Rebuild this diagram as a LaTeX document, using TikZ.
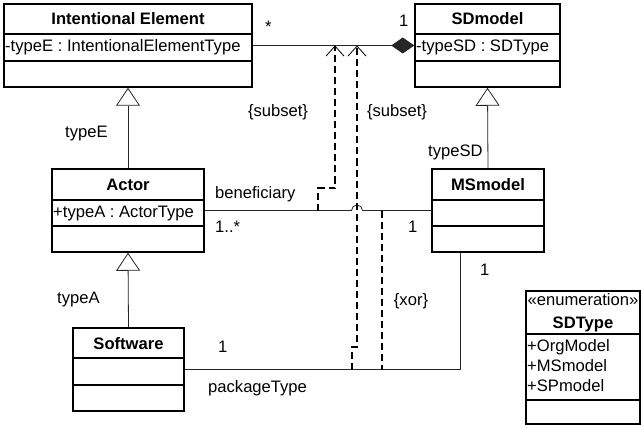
\documentclass[tikz,border=0pt]{standalone}
\usepackage{fontspec}
\setmainfont{Liberation Sans}
\usetikzlibrary{arrows.meta}
\newcommand\dsize{\fontsize{16.6}{19}\selectfont}
\begin{document}
\begin{tikzpicture}[x=1pt,y=-1pt,font=\dsize,
  classbox/.style={draw,line width=1.5pt,inner sep=0pt},
  divider/.style={line width=1.5pt},
  title/.style={inner sep=0pt,anchor=base,font=\dsize\bfseries},
  attr/.style={inner sep=0pt,anchor=base west,font=\dsize},
  lbl/.style={inner sep=0pt,anchor=base west,font=\dsize},
  clbl/.style={inner sep=0pt,font=\dsize},
  conn/.style={line width=0.8pt,black!85},
  gen/.style={conn,-{Triangle[open,length=18pt,width=24pt,line width=0.8pt]}},
  comp/.style={conn,-{Diamond[length=23pt,width=16pt]}},
  constraint/.style={line width=1.6pt,dash pattern=on 7pt off 4pt},
  subsetarrow/.style={constraint,-{Straight Barb[length=10pt,width=18pt,line width=0.8pt]}}]
\useasboundingbox (0,0) rectangle (641,428);

% ---- classes ----
\node[classbox,minimum width=248pt,minimum height=83pt] (ie) at (128,45.5) {};
\draw[divider] (ie.west |- 0,34) -- (ie.east |- 0,34);
\draw[divider] (ie.west |- 0,61) -- (ie.east |- 0,61);
\node[title] (ieT) at (128,25) {Intentional Element};
\node[attr] (ieA) at (5,52) {-typeE : IntentionalElementType};

\node[classbox,minimum width=145pt,minimum height=83pt] (sd) at (487.5,45.5) {};
\draw[divider] (sd.west |- 0,34) -- (sd.east |- 0,34);
\draw[divider] (sd.west |- 0,61) -- (sd.east |- 0,61);
\node[title] (sdT) at (487.5,25) {SDmodel};
\node[attr] (sdA) at (416,52) {-typeSD : SDType};

\node[classbox,minimum width=152pt,minimum height=83pt] (actor) at (128,210.5) {};
\draw[divider] (actor.west |- 0,200) -- (actor.east |- 0,200);
\draw[divider] (actor.west |- 0,226) -- (actor.east |- 0,226);
\node[title] (actorT) at (128,190) {Actor};
\node[attr] (actorA) at (53,217) {+typeA : ActorType};

\node[classbox,minimum width=112pt,minimum height=83pt] (ms) at (488,210.5) {};
\draw[divider] (ms.west |- 0,200) -- (ms.east |- 0,200);
\draw[divider] (ms.west |- 0,226) -- (ms.east |- 0,226);
\node[title] (msT) at (488,190) {MSmodel};

\node[classbox,minimum width=111pt,minimum height=83pt] (sw) at (128.5,369.5) {};
\draw[divider] (sw.west |- 0,358) -- (sw.east |- 0,358);
\draw[divider] (sw.west |- 0,385) -- (sw.east |- 0,385);
\node[title] (swT) at (128.5,349) {Software};

\node[classbox,minimum width=114pt,minimum height=133pt] (sdt) at (583,357.5) {};
\draw[divider] (sdt.west |- 0,334) -- (sdt.east |- 0,334);
\draw[divider] (sdt.west |- 0,400) -- (sdt.east |- 0,400);
\node[clbl] (sdtS) at (583,300) {«enumeration»};
\node[title] (sdtT) at (583,328) {SDType};
\node[attr] (lit1) at (527,351) {+OrgModel};
\node[attr] (lit2) at (527,371) {+MSmodel};
\node[attr] (lit3) at (527,391) {+SPmodel};

% ---- generalizations ----
\draw[gen] (actor.north) -- (ie.south);
\draw[gen] (sw.north) -- (actor.south);
\draw[gen] (ms.north) -- (sd.south);

% ---- associations ----
\draw[comp] (ie.east) -- (sd.west);
\coordinate (hop) at (357,210.5);
\draw[conn] (actor.east) -- ([xshift=-5.5pt]hop)
  arc[start angle=180,end angle=0,radius=5.5pt] -- (ms.west);
\coordinate (msfoot) at ([xshift=-28pt]ms.south);
\draw[conn] (sw.east) -| (msfoot);

% ---- constraints between associations ----
\coordinate (s1a) at (318,210.5);
\coordinate (s1b) at (335,45.5);
\coordinate (s2a) at (352,369.5);
\coordinate (s2b) at (357,45.5);
\coordinate (x1) at (382,210.5);
\coordinate (x2) at (382,369.5);
\draw[subsetarrow] (s1a) -- ++(0,-22.5) -| (s1b);
\draw[subsetarrow] (s2a) -- ++(0,-22.5) -| (s2b);
\draw[constraint] (x1) -- (x2);

% ---- labels ----
\node[lbl] (m1) at (265,33) {*};
\node[lbl] (m2) at (399,27) {1};
\node[clbl] (sub1) at (278,112) {\{subset\}};
\node[clbl] (sub2) at (397,112) {\{subset\}};
\node[lbl] (rE) at (65,138) {typeE};
\node[lbl] (rSD) at (428,157) {typeSD};
\node[lbl] (ben) at (215,199) {beneficiary};
\node[lbl] (m3) at (215,232) {1..*};
\node[lbl] (m4) at (408,233) {1};
\node[lbl] (m5) at (480,275) {1};
\node[lbl] (rA) at (57,303) {typeA};
\node[clbl] (xor) at (411,301) {\{xor\}};
\node[lbl] (m6) at (218,352) {1};
\node[lbl] (pkg) at (208,392) {packageType};
\end{tikzpicture}
\end{document}
